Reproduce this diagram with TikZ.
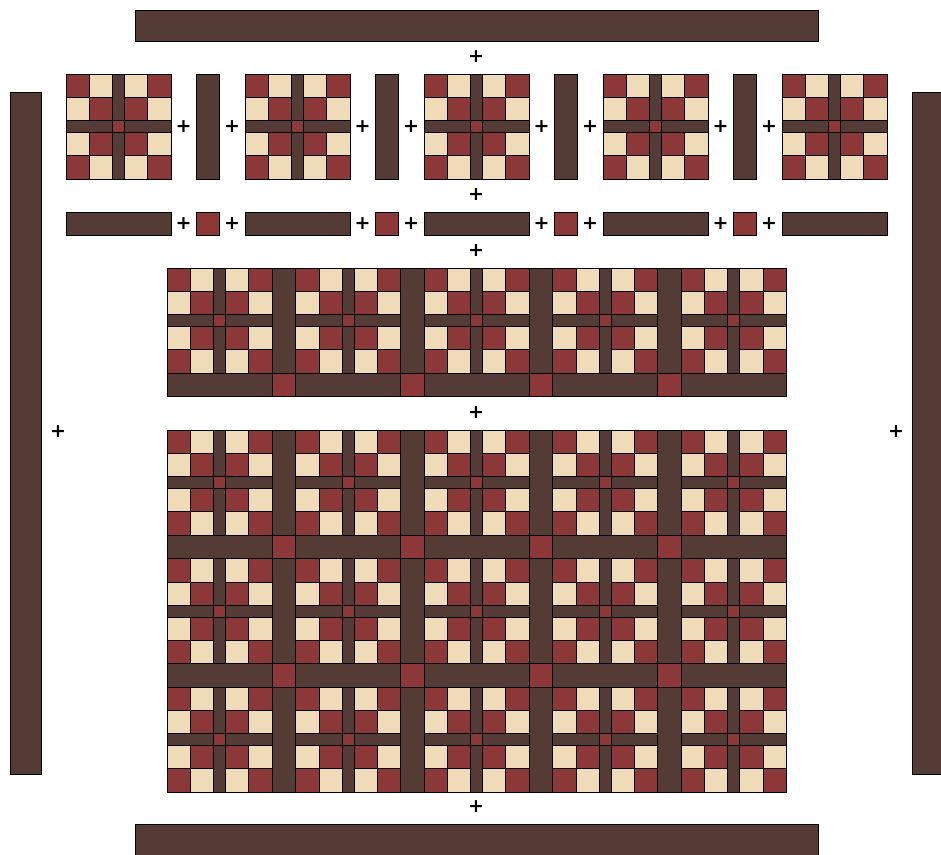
\documentclass[tikz,border=0pt]{standalone}
\usepackage{fontspec}
\setsansfont{DejaVu Sans}
\definecolor{qbrown}{HTML}{553B35}
\definecolor{qred}{HTML}{8C3838}
\definecolor{qcream}{HTML}{F0DBB9}
\tikzset{
  pc/.style={draw=black, line width=0.8pt},
  redpc/.style={pc, fill=qred},
  crpc/.style={pc, fill=qcream},
  brpc/.style={pc, fill=qbrown},
  plussign/.style={font=\sffamily\bfseries\fontsize{19}{19}\selectfont, inner sep=0pt},
}
\def\U{11.685}
\newcommand{\qblock}[2]{%
  \begin{scope}[shift={({#1},{#2})}]
  \begin{scope}[x=\U pt, y=-\U pt]
    \foreach \a/\b in {0/0,7/0,2/2,5/2,2/5,5/5,0/7,7/7} \draw[redpc] (\a,\b) rectangle ++(2,2);
    \foreach \a/\b in {2/0,5/0,0/2,7/2,0/5,7/5,2/7,5/7} \draw[crpc] (\a,\b) rectangle ++(2,2);
    \draw[brpc] (4,0) rectangle (5,4);
    \draw[brpc] (4,5) rectangle (5,9);
    \draw[brpc] (0,4) rectangle (4,5);
    \draw[brpc] (5,4) rectangle (9,5);
    \draw[redpc] (4,4) rectangle (5,5);
  \end{scope}
  \end{scope}}
% one row of 5 blocks with vertical sashes, at (x,y) in px
\newcommand{\qblockrow}[2]{%
  \foreach \i in {0,...,4} {\qblock{#1+11*\U*\i}{#2}}
  \foreach \i in {0,...,3} {\draw[brpc] ({#1+(9+11*\i)*\U},{#2}) rectangle ++({2*\U},{9*\U});}}
% one sashing row with cornerstones
\newcommand{\qsashrow}[2]{%
  \foreach \i in {0,...,4} {\draw[brpc] ({#1+11*\U*\i},{#2}) rectangle ++({9*\U},{2*\U});}
  \foreach \i in {0,...,3} {\draw[redpc] ({#1+(9+11*\i)*\U},{#2}) rectangle ++({2*\U},{2*\U});}}
\begin{document}
\begin{tikzpicture}[x=1pt,y=-1pt]
\useasboundingbox (0,0) rectangle (941,854);
% borders
\draw[brpc] (135.5,10) rectangle (818,41.5);
\draw[brpc] (135.5,824.5) rectangle (818,856);
\draw[brpc] (10,92) rectangle (41.5,774);
\draw[brpc] (912,92) rectangle (943.5,774);
% row 1: blocks and sashes
\foreach \i in {0,...,4} {\qblock{66+179*\i}{74}}
\foreach \i in {0,...,3} {\draw[brpc] ({196+179*\i},74) rectangle ++({2*\U},{9*\U});}
\foreach \i in {0,...,3} {
  \node[plussign] (pa\i) at ({183.5+179*\i},126.5) {+};
  \node[plussign] (pb\i) at ({232+179*\i},126.5) {+};
}
% row 2: sash strips and cornerstones
\foreach \i in {0,...,4} {\draw[brpc] ({66+179*\i},212) rectangle ++({9*\U},{2*\U});}
\foreach \i in {0,...,3} {\draw[redpc] ({196+179*\i},212) rectangle ++({2*\U},{2*\U});}
\foreach \i in {0,...,3} {
  \node[plussign] (pc\i) at ({183.5+179*\i},224) {+};
  \node[plussign] (pd\i) at ({232+179*\i},224) {+};
}
% row 3
\qblockrow{167}{268}
\qsashrow{167}{268+9*\U}
% row 4
\qblockrow{167}{430}
\qsashrow{167}{430+9*\U}
\qblockrow{167}{430+11*\U}
\qsashrow{167}{430+20*\U}
\qblockrow{167}{430+22*\U}
% plus signs
\node[plussign] (p1) at (476,57) {+};
\node[plussign] (p2) at (476,195) {+};
\node[plussign] (p3) at (476,251) {+};
\node[plussign] (p4) at (476,413) {+};
\node[plussign] (p5) at (58,432) {+};
\node[plussign] (p6) at (896,432) {+};
\node[plussign] (p7) at (476,807) {+};
\end{tikzpicture}
\end{document}
